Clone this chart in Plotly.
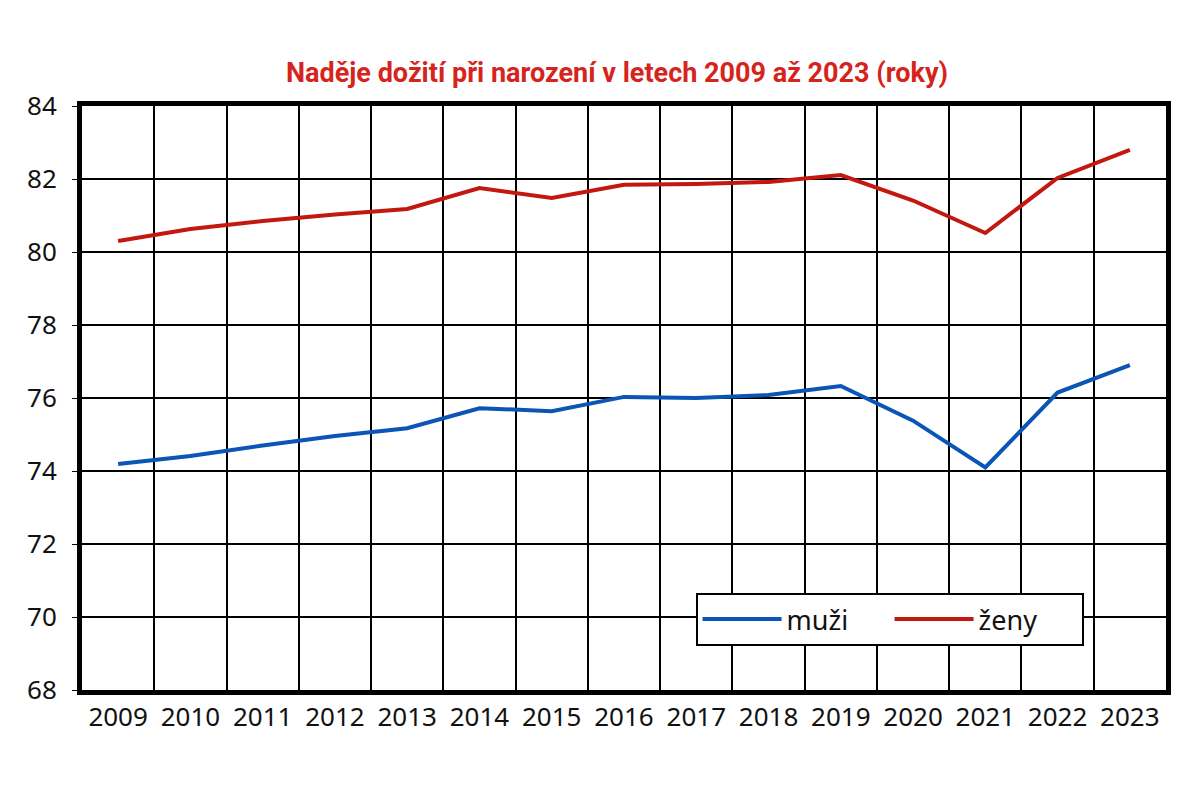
import plotly.graph_objects as go

# naděje dožití při narození (roky)
roky = list(range(2009, 2024))
muzi = [74.19, 74.41, 74.70, 74.96, 75.17, 75.72, 75.64, 76.03, 76.00, 76.08,
        76.33, 75.38, 74.10, 76.15, 76.90]
zeny = [80.30, 80.63, 80.85, 81.03, 81.18, 81.75, 81.48, 81.84, 81.86, 81.92,
        82.11, 81.41, 80.52, 82.03, 82.80]
y_ticks = [68, 70, 72, 74, 76, 78, 80, 82, 84]

BLUE = '#0a55b5'
RED = '#c2180f'
TICKFONT = dict(family='Noto Sans, sans-serif', size=26, color='#111')

fig = go.Figure()
fig.add_trace(go.Scatter(x=roky, y=muzi, name='muži', mode='lines',
                         line=dict(color=BLUE, width=4)))
fig.add_trace(go.Scatter(x=roky, y=zeny, name='ženy', mode='lines',
                         line=dict(color=RED, width=4)))

# stránka má okraj 8 px, proto jsou okraje posunuté
fig.update_layout(
    width=1200, height=798,
    margin=dict(l=74, r=42, t=98, b=116, autoexpand=False),
    paper_bgcolor='white', plot_bgcolor='white',
    title=dict(text='<b>Naděje dožití při narození v letech 2009 až 2023 (roky)</b>',
               font=dict(family='Roboto', size=27, color='#d6241c'),
               x=609 / 1200, xanchor='center', y=1 - 65 / 798, yanchor='middle'),
    showlegend=True,
    legend=dict(orientation='h', x=0.566, xanchor='left', y=0.166, yanchor='top',
                bgcolor='white', bordercolor='black', borderwidth=2,
                font=dict(family='Noto Sans', size=27, color='#111'),
                itemwidth=79, entrywidth=98, entrywidthmode='pixels',
                tracegroupgap=0),
    xaxis=dict(range=[2008.5, 2023.5], tickvals=roky, tickangle=0,
               showgrid=False, ticks='', tickfont=TICKFONT,
               minor=dict(tick0=2008.5, dtick=1, showgrid=True,
                          gridcolor='black', gridwidth=2),
               showline=True, linecolor='black', linewidth=5, mirror=True,
               zeroline=False, fixedrange=True),
    yaxis=dict(range=[68, 84], tickvals=y_ticks, showgrid=True,
               gridcolor='black', gridwidth=1.5, ticks='outside', ticklen=5,
               tickcolor='black', tickfont=TICKFONT, ticklabelstandoff=10,
               showline=True, linecolor='black', linewidth=5, mirror=True,
               zeroline=False, fixedrange=True),
)

fig.write_html("out.html")
